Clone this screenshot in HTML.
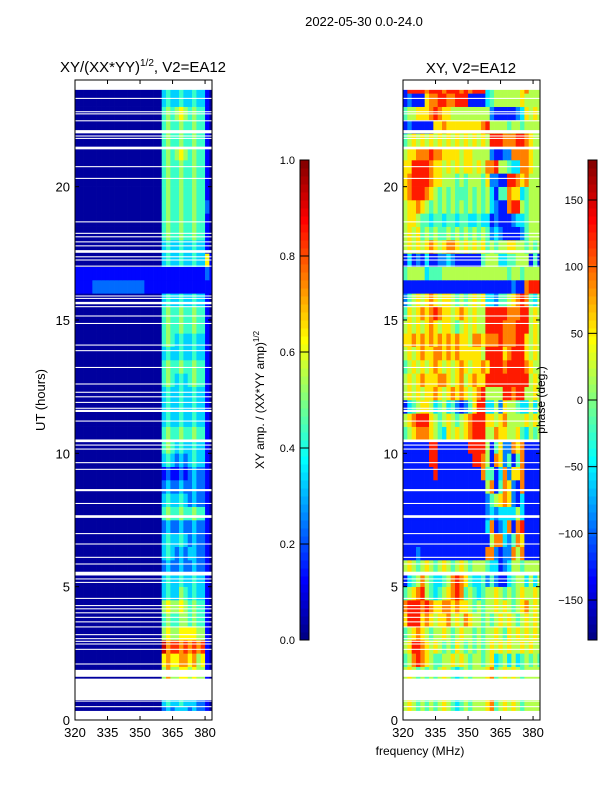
<!DOCTYPE html>
<html><head><meta charset="utf-8"><style>
body{margin:0;background:#fff;width:600px;height:800px;overflow:hidden;font-family:"Liberation Sans","DejaVu Sans",sans-serif}
text{font-family:"Liberation Sans","DejaVu Sans",sans-serif}
</style></head><body>
<svg id="fig" width="600" height="800" xmlns="http://www.w3.org/2000/svg">
<defs>
<clipPath id="clipL"><rect x="75" y="80" width="137" height="640"/></clipPath>
<clipPath id="clipR"><rect x="403" y="80" width="137" height="640"/></clipPath>
</defs>
<rect width="600" height="800" fill="#fff"/>
<text x="364" y="26" font-size="13" text-anchor="middle">2022-05-30 0.0-24.0</text>
<text x="143" y="72" font-size="15" text-anchor="middle">XY/(XX*YY)<tspan font-size="10" dy="-6">1/2</tspan><tspan dy="6">, V2=EA12</tspan></text>
<text x="471" y="73" font-size="15" text-anchor="middle">XY, V2=EA12</text>
<g id="heatL" clip-path="url(#clipL)"></g>
<g id="heatR" clip-path="url(#clipR)"></g>
<g id="axes"></g>
<text transform="translate(45,400) rotate(-90)" font-size="13" text-anchor="middle">UT (hours)</text>
<text x="420" y="755" font-size="12" text-anchor="middle">frequency (MHz)</text>
<text transform="translate(264,400) rotate(-90)" font-size="12" text-anchor="middle">XY amp. / (XX*YY amp)<tspan font-size="8" dy="-5">1/2</tspan></text>
<text transform="translate(545,400) rotate(-90)" font-size="12" text-anchor="middle">phase (deg.)</text>
</svg>
<script>
const yTicks=[0,5,10,15,20];
const xTicks=[320,335,350,365,380];
const ampTicks=[0.0,0.2,0.4,0.6,0.8,1.0];
const phaseTicks=[-150,-100,-50,0,50,100,150];
const gaps=[[0,0.34],[0.48,0.52],[0.69,0.73],[0.75,1.55],[1.62,1.88],[2.08,2.12],[2.63,2.67],[2.83,2.87],[2.93,2.97],[3.03,3.07],[3.18,3.22],[3.47,3.51],[3.66,3.7],[3.83,3.87],[4.0,4.04],[4.15,4.19],[4.27,4.31],[4.54,4.58],[5.14,5.18],[5.27,5.31],[5.42,5.56],[5.83,5.87],[6.08,6.12],[6.58,6.62],[6.97,7.01],[7.58,7.68],[8.1,8.14],[8.58,8.66],[9.38,9.42],[9.63,9.67],[10.14,10.18],[10.29,10.33],[10.42,10.52],[11.19,11.23],[11.55,11.63],[11.67,11.71],[11.89,11.93],[12.1,12.14],[12.27,12.31],[12.58,12.62],[13.2,13.24],[13.83,13.87],[14.04,14.08],[14.85,14.89],[15.13,15.17],[15.48,15.52],[15.59,15.68],[15.79,15.83],[15.88,15.92],[17.0,17.04],[17.23,17.27],[17.35,17.39],[17.52,17.62],[17.76,17.8],[17.91,17.95],[18.1,18.14],[18.23,18.27],[18.66,18.7],[20.29,20.33],[20.73,20.77],[21.4,21.5],[21.79,21.83],[21.88,21.92],[22.0,22.12],[22.45,22.49],[22.71,22.75],[22.79,22.83],[23.29,23.33],[23.63,24]];
const ampRows=[
"00000000000000000000232333232210","00000000000000000000343343332210","00000000000000000000343343332210","00000000000000000000575566565510",
"00000000000000000000676677675610","00000000000000000000978878787810","00000000000000000000565566665510","00000000000000000000454455454410",
"00000000000000000000565565454410","00000000000000000000343354343310","00000000000000000000343343343310","00000000000000000000232232232210",
"00000000000000000000343232332210","00000000000000000000343343232210","00000000000000000000232232232210","00000000000000000000454454454410",
"00000000000000000000343343232210","00000000000000000000232232232210","00000000000000000000121121232210","00000000000000000000343232343310",
"00000000000000000000454343343310","00000000000000000000454454454410","00000000000000000000343343343310","00000000000000000000343343343310",
"00000000000000000000343343343310","00000000000000000000454343454410","00000000000000000000454454454410","00000000000000000000343343343310",
"00000000000000000000454343343310","00000000000000000000454454454410","00000000000000000000454454454410","00000000000000000000343343343310",
"11112222222222221111111111111111","11111111111111111111111111111121","00000000000000000000343343343361","00000000000000000000343343343310",
"00000000000000000000454454454410","00000000000000000000454454454410","00000000000000000000454454454420","00000000000000000000454454454410",
"00000000000000000000454454454410","00000000000000000000454454454410","00000000000000000000454565454410","00000000000000000000454454454410",
"00000000000000000000454454454410","00000000000000000000454565454410","00000000000000000000343343343310","00000000000000000000343343343310"];
const phaseRows=[
"56545454565434545556745656545555","56545454565434545556745656545555","56545454565434545556745656545555","56545454565434545556745656545555",
"45787654455656545545634535345454","56887656545465454545656565565655","45676545565456554545565465656565","68886765667565765545456565456565",
"78887876677676654545565654567565","45678543456787454345565454565565","13457543345787643342421134553535","56545654565456545554331235545555",
"11121111111111111117721227571111","11111111111111111111577324761111","11111111111111111113712371781111","11111111111111111112323333531111",
"11111111111111111112456762131111","11111111111111111115714762171111","11111118111111111174413726671111","11111188111111118875176241471111",
"11111188111111188885146227671111","45677765436565678885576655643545","56788865456545678886656755556565","13456653453421246883352655433535",
"56565667656767656785555887885565","56567666776567567668888888888565","45656567656567656676888788887655","56567667767676666658888678886565",
"66767676767676657767778777886565","56565676566545656558888777888565","46567678766567656558888877788565","24565676566545456563324456787435",
"11111111111111111111111112117888","45555344455555555555555545545555","13121311223211111145553344555141","56565676567765656564545566554545",
"56564545445454545454232111124555","56654434434434433433121112334555","56676545454545454545321178854555","67888765454544454545314476634555",
"67888876655545455546221188767555","66888876656565665657785543377655","56677787766665665555211227777655","45656565656565656565888777887655",
"12111116676666666678555545545555","45566678766555555555211111236565","12111677887788811113455555565555","18888788878887878883455555567555"];
const tMin=0,tMax=24,fMin=320,fMax=383.2,rowH=0.5,colW=2,f0=320;
const NS='http://www.w3.org/2000/svg';
function jet(v){v=Math.max(0,Math.min(1,v));
 const r=Math.min(Math.max(Math.min(4*v-1.5,-4*v+4.5),0),1);
 const g=Math.min(Math.max(Math.min(4*v-0.5,-4*v+3.5),0),1);
 const b=Math.min(Math.max(Math.min(4*v+0.5,-4*v+2.5),0),1);
 return 'rgb('+Math.round(r*255)+','+Math.round(g*255)+','+Math.round(b*255)+')';}
function yScale(t){return 720-(t-tMin)/(tMax-tMin)*640;}
function xL(f){return 75+(f-fMin)/(fMax-fMin)*137;}
function xR(f){return 403+(f-fMin)/(fMax-fMin)*137;}
function mk(tag,attrs,parent){const e=document.createElementNS(NS,tag);for(const k in attrs)e.setAttribute(k,attrs[k]);parent.appendChild(e);return e;}
function drawHeat(gid,rows,xs,valFn,nm){
 const g=document.getElementById(gid);
 rows.forEach((row,i)=>{for(let j=0;j<row.length;j++){
  const d=+row[j];const t0=i*rowH,f=f0+j*colW;
  const x1=xs(f),x2=xs(f+colW),y1=yScale(t0+rowH),y2=yScale(t0);
  const r=mk('rect',{x:x1,y:y1,width:x2-x1+0.3,height:y2-y1+0.3,fill:jet(valFn(d))},g);
  
  
 }});
 gaps.forEach(gp=>{const r=mk('rect',{x:xs(fMin),y:yScale(gp[1]),width:140,height:yScale(gp[0])-yScale(gp[1]),fill:'#fff'},g);
  
  });
}
drawHeat('heatL',ampRows,xL,d=>d===0?0.03:(d+0.3)/10,'amp-cell');
drawHeat('heatR',phaseRows,xR,d=>(d+0.5)/10,'phase-cell');
const ax=document.getElementById('axes');
function frame(x0,xs,nm){
 const f=mk('rect',{x:x0,y:80,width:137,height:640,fill:'none',stroke:'#000','stroke-width':1},ax);
 
 
 yTicks.forEach(t=>{const y=yScale(t);
  mk('line',{x1:x0,x2:x0+4,y1:y,y2:y,stroke:'#000'},ax);
  mk('line',{x1:x0+137,x2:x0+133,y1:y,y2:y,stroke:'#000'},ax);
  const tx=mk('text',{x:x0-5,y:y+5,'font-size':13,'text-anchor':'end'},ax);tx.textContent=t;
  
  });
 xTicks.forEach(fq=>{const x=xs(fq);
  mk('line',{x1:x,x2:x,y1:720,y2:716,stroke:'#000'},ax);
  mk('line',{x1:x,x2:x,y1:80,y2:84,stroke:'#000'},ax);
  const tx=mk('text',{x:x,y:737,'font-size':13,'text-anchor':'middle'},ax);tx.textContent=fq;
  
  });
}
frame(75,xL,'amplitude-axes');frame(403,xR,'phase-axes');
function cbar(x0,ticks,lo,hi,fmt,nm){
 const n=60;
 for(let i=0;i<n;i++){const v=(i+0.5)/n;
  const r=mk('rect',{x:x0,y:640-(i+1)*480/n,width:9,height:480/n+0.5,fill:jet(v)},ax);
  
  }
 const f=mk('rect',{x:x0,y:160,width:9,height:480,fill:'none',stroke:'#000'},ax);
 
 
 ticks.forEach(t=>{const y=640-(t-lo)/(hi-lo)*480;
  mk('line',{x1:x0,x2:x0+9,y1:y,y2:y,stroke:'#000'},ax);
  const tx=mk('text',{x:x0-5,y:y+4,'font-size':11,'text-anchor':'end'},ax);tx.textContent=fmt(t);
  
  });
}
cbar(300,ampTicks,0,1,t=>t.toFixed(1),'amp-colorbar');
cbar(588,phaseTicks,-180,180,t=>String(t).replace('-','\u2212'),'phase-colorbar');
</script>
</body></html>
